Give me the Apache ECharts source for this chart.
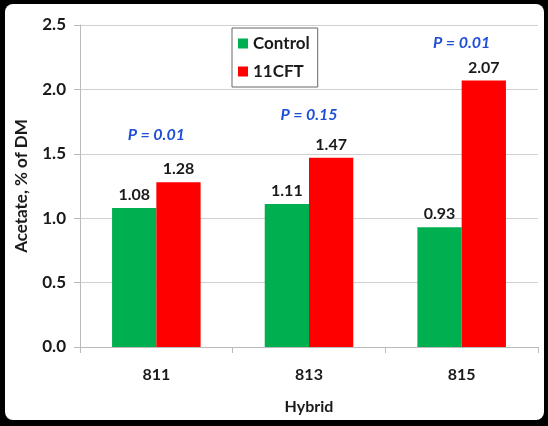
<!DOCTYPE html>
<html>
<head>
<meta charset="utf-8">
<script src="https://cdn.jsdelivr.net/npm/echarts@6/dist/echarts.min.js"></script>
<style>
  html, body { margin: 0; padding: 0; background: #000; }
  #chart {
    position: absolute; left: 5px; top: 4px;
    width: 539px; height: 416px;
    background: #fff; border-radius: 8px; overflow: hidden;
  }
</style>
</head>
<body>
<div id="chart"></div>
<script>
var hybrids = ['811', '813', '815'];
var controlValues = [1.08, 1.11, 0.93];
var cftValues = [1.28, 1.47, 2.07];
// P-value notes, and where they sit on the y scale
var pTexts = ['P = 0.01', 'P = 0.15', 'P = 0.01'];
var pLevels = [1.65, 1.80, 2.36];
var yTicks = [0, 0.5, 1.0, 1.5, 2.0, 2.5];

var font = 'Lato, "DejaVu Sans", sans-serif';
var chart = echarts.init(document.getElementById('chart'));

var valueLabel = {
  show: true,
  position: 'top',
  distance: 5,
  color: '#1a1a1a',
  fontFamily: font,
  fontWeight: 'bold',
  fontSize: 16,
  formatter: function (p) { return p.value.toFixed(2); }
};

chart.setOption({
  animation: false,
  textStyle: { fontFamily: font },
  grid: { left: 69, right: 6, top: 21, bottom: 65 },
  legend: {
    data: ['Control', '11CFT'],
    orient: 'vertical',
    left: 227, top: 24,
    itemWidth: 10, itemHeight: 10, itemGap: 11,
    padding: [7, 8, 7, 6],
    borderColor: '#666', borderWidth: 1,
    icon: 'rect',
    textStyle: { fontFamily: font, fontWeight: 'bold', fontSize: 17, color: '#1a1a1a' }
  },
  xAxis: {
    type: 'category',
    data: hybrids,
    name: 'Hybrid',
    nameLocation: 'middle',
    nameGap: 52,
    nameTextStyle: { fontFamily: font, fontWeight: 'bold', fontSize: 16, color: '#1a1a1a' },
    axisLine: { lineStyle: { color: '#bbb' } },
    axisTick: { show: true, length: 6, lineStyle: { color: '#bbb' } },
    axisLabel: { margin: 20, fontFamily: font, fontWeight: 'bold', fontSize: 16, color: '#1a1a1a' }
  },
  yAxis: {
    type: 'value',
    min: yTicks[0], max: yTicks[yTicks.length - 1], interval: 0.5,
    name: 'Acetate, % of DM',
    nameLocation: 'middle',
    nameRotate: 90,
    nameGap: 50,
    nameTextStyle: { fontFamily: font, fontWeight: 'bold', fontSize: 17, color: '#1a1a1a' },
    axisLine: { show: true, lineStyle: { color: '#bbb' } },
    axisTick: { show: true, length: 6, lineStyle: { color: '#bbb' } },
    axisLabel: {
      margin: 14, fontFamily: font, fontWeight: 'bold', fontSize: 17, color: '#1a1a1a',
      formatter: function (v) { return v.toFixed(1); }
    },
    splitLine: { lineStyle: { color: '#d0d0d0' } }
  },
  series: [
    {
      name: 'Control', type: 'bar', data: controlValues,
      barWidth: '29%', barGap: '0%',
      itemStyle: { color: '#00b050' },
      label: valueLabel
    },
    {
      name: '11CFT', type: 'bar', data: cftValues,
      barWidth: '29%', barGap: '0%',
      itemStyle: { color: '#ff0000' },
      label: valueLabel
    },
    {
      name: 'P', type: 'scatter',
      data: pLevels.map(function (v, i) { return [i, v]; }),
      symbolSize: 0,
      itemStyle: { opacity: 1 },
      label: {
        show: true, position: 'inside', opacity: 1,
        color: '#1f4fd6', fontFamily: font,
        fontStyle: 'italic', fontWeight: 'bold', fontSize: 16,
        formatter: function (p) { return pTexts[p.dataIndex]; }
      }
    }
  ]
});
</script>
</body>
</html>
